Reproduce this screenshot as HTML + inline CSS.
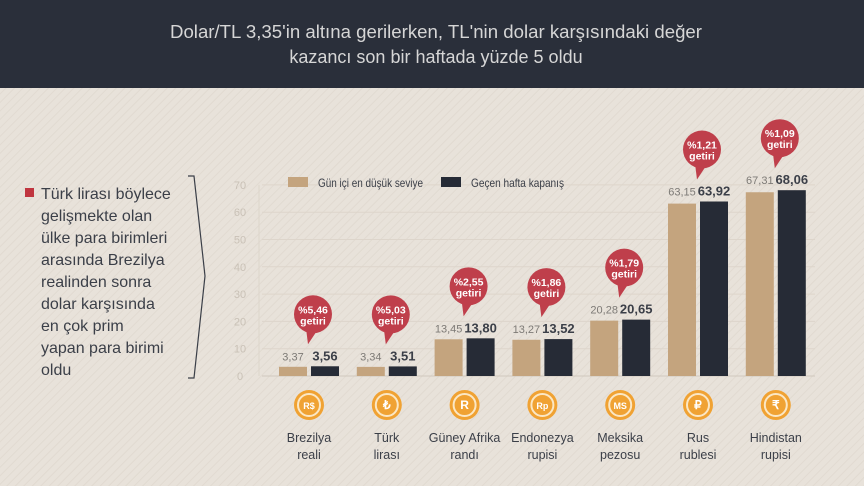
<!DOCTYPE html>
<html><head><meta charset="utf-8">
<style>
html,body{margin:0;padding:0;}
body{width:864px;height:486px;overflow:hidden;background:#e8e2da;font-family:"Liberation Sans",sans-serif;}
svg{display:block}
</style></head>
<body>
<svg width="864" height="486" viewBox="0 0 864 486" xmlns="http://www.w3.org/2000/svg">
<defs>
<pattern id="stripes" width="6" height="6" patternUnits="userSpaceOnUse" patternTransform="rotate(45)">
<rect width="6" height="6" fill="#e8e2da"/><rect width="1" height="6" fill="#e1dad1"/>
</pattern>
</defs>
<rect width="864" height="486" fill="url(#stripes)"/>
<rect width="864" height="88" fill="#2a2f3a"/>
<text x="436" y="38" text-anchor="middle" font-size="18" fill="#d6d6d6" textLength="532" lengthAdjust="spacingAndGlyphs">Dolar/TL 3,35'in altına gerilerken, TL'nin dolar karşısındaki değer</text>
<text x="436" y="63" text-anchor="middle" font-size="18" fill="#d6d6d6">kazancı son bir haftada yüzde 5 oldu</text>

<rect x="25" y="188" width="9" height="9" fill="#c0353f"/>
<g font-size="16" fill="#3b3f48">
<text x="41" y="199">Türk lirası böylece</text>
<text x="41" y="221">gelişmekte olan</text>
<text x="41" y="243">ülke para birimleri</text>
<text x="41" y="265">arasında Brezilya</text>
<text x="41" y="287">realinden sonra</text>
<text x="41" y="309">dolar karşısında</text>
<text x="41" y="331">en çok prim</text>
<text x="41" y="353">yapan para birimi</text>
<text x="41" y="375">oldu</text>
</g>
<path d="M188 176 L194 176 L205 276 L194 378 L188 378" fill="none" stroke="#3b3f48" stroke-width="1.2"/>

<g id="chart"></g>
</svg>
<script>
const categories=["Brezilya|reali","Türk|lirası","Güney Afrika|randı","Endonezya|rupisi","Meksika|pezosu","Rus|rublesi","Hindistan|rupisi"];
const lowValues=[3.37,3.34,13.45,13.27,20.28,63.15,67.31];
const closeValues=[3.56,3.51,13.80,13.52,20.65,63.92,68.06];
const lowLabels=["3,37","3,34","13,45","13,27","20,28","63,15","67,31"];
const closeLabels=["3,56","3,51","13,80","13,52","20,65","63,92","68,06"];
const returnLabels=["%5,46","%5,03","%2,55","%1,86","%1,79","%1,21","%1,09"];
const symbols=["R$","₺","R","Rp","MS","₽","₹"];
const yTicks=[0,10,20,30,40,50,60,70];

const NS="http://www.w3.org/2000/svg";
const g=document.getElementById('chart');
const y0=376, pxPer=2.73, x0=309, step=77.8;
const Y=v=>y0-v*pxPer;
const X=i=>x0+i*step;
function mk(tag,attrs,parent){const e=document.createElementNS(NS,tag);for(const k in attrs)e.setAttribute(k,attrs[k]);(parent||g).appendChild(e);return e;}

yTicks.forEach(t=>{
  const l=mk('line',{x1:262,x2:815,y1:Y(t),y2:Y(t),stroke:t===0?'#d0c8bd':'#ddd5cb','stroke-width':1});
  
  
  const tx=mk('text',{x:240,y:Y(t)+4,'text-anchor':'middle','font-size':11,fill:'#c9c1b6'});
  tx.textContent=t;
  
  
});
const ax=mk('line',{x1:259,x2:259,y1:Y(70),y2:y0,stroke:'#ddd5cb'});



// legend
const lg=mk('g',{});


mk('rect',{x:288,y:177,width:20,height:10,fill:'#c4a47e'},lg);
let t1=mk('text',{x:318,y:187,'font-size':12,fill:'#3b3f48',textLength:105,lengthAdjust:'spacingAndGlyphs'},lg);t1.textContent='Gün içi en düşük seviye';
mk('rect',{x:441,y:177,width:20,height:10,fill:'#262b36'},lg);
let t2=mk('text',{x:471,y:187,'font-size':12,fill:'#3b3f48',textLength:93,lengthAdjust:'spacingAndGlyphs'},lg);t2.textContent='Geçen hafta kapanış';

categories.forEach((c,i)=>{
  const cx=X(i);
  const b1=mk('rect',{x:cx-30,y:Y(lowValues[i]),width:28,height:lowValues[i]*pxPer,fill:'#c4a47e'});
  
  
  const b2=mk('rect',{x:cx+2,y:Y(closeValues[i]),width:28,height:closeValues[i]*pxPer,fill:'#262b36'});
  
  
  const lt=mk('text',{x:cx-16,y:Y(closeValues[i])-6,'text-anchor':'middle','font-size':11,fill:'#7d7a76'});
  lt.textContent=lowLabels[i];
  
  
  const ct=mk('text',{x:cx+16,y:Y(closeValues[i])-6,'text-anchor':'middle','font-size':13,'font-weight':'bold',fill:'#3b3f48'});
  ct.textContent=closeLabels[i];
  
  
  // bubble
  const by=Y(closeValues[i])-52, bx=cx+4;
  const bg=mk('g',{});
  
  
  mk('path',{d:`M${bx-7} ${by+14} L${bx-5} ${by+30} L${bx+5} ${by+15} Z`,fill:'#bf3f4b'},bg);
  mk('circle',{cx:bx,cy:by,r:19,fill:'#bf3f4b'},bg);
  const r1=mk('text',{x:bx,y:by-1,'text-anchor':'middle','font-size':10.5,'font-weight':'bold',fill:'#fff'},bg);r1.textContent=returnLabels[i];
  const r2=mk('text',{x:bx,y:by+10,'text-anchor':'middle','font-size':10.5,'font-weight':'bold',fill:'#fff'},bg);r2.textContent='getiri';
  // icon
  const ig=mk('g',{});
  
  
  mk('circle',{cx:cx,cy:405,r:15,fill:'#f0a233'},ig);
  mk('circle',{cx:cx,cy:405,r:11,fill:'none',stroke:'#fbe7c4','stroke-width':2},ig);
  const st=mk('text',{x:cx,y:409,'text-anchor':'middle','font-size':symbols[i].length>1?9:12,'font-weight':'bold',fill:'#fff'},ig);st.textContent=symbols[i];
  const parts=c.split('|');
  parts.forEach((p,k)=>{
    const tx=mk('text',{x:cx,y:442+k*17,'text-anchor':'middle','font-size':12.5,fill:'#3b3f48'});
    tx.textContent=p;
    
    
  });
});
</script>
</body></html>
